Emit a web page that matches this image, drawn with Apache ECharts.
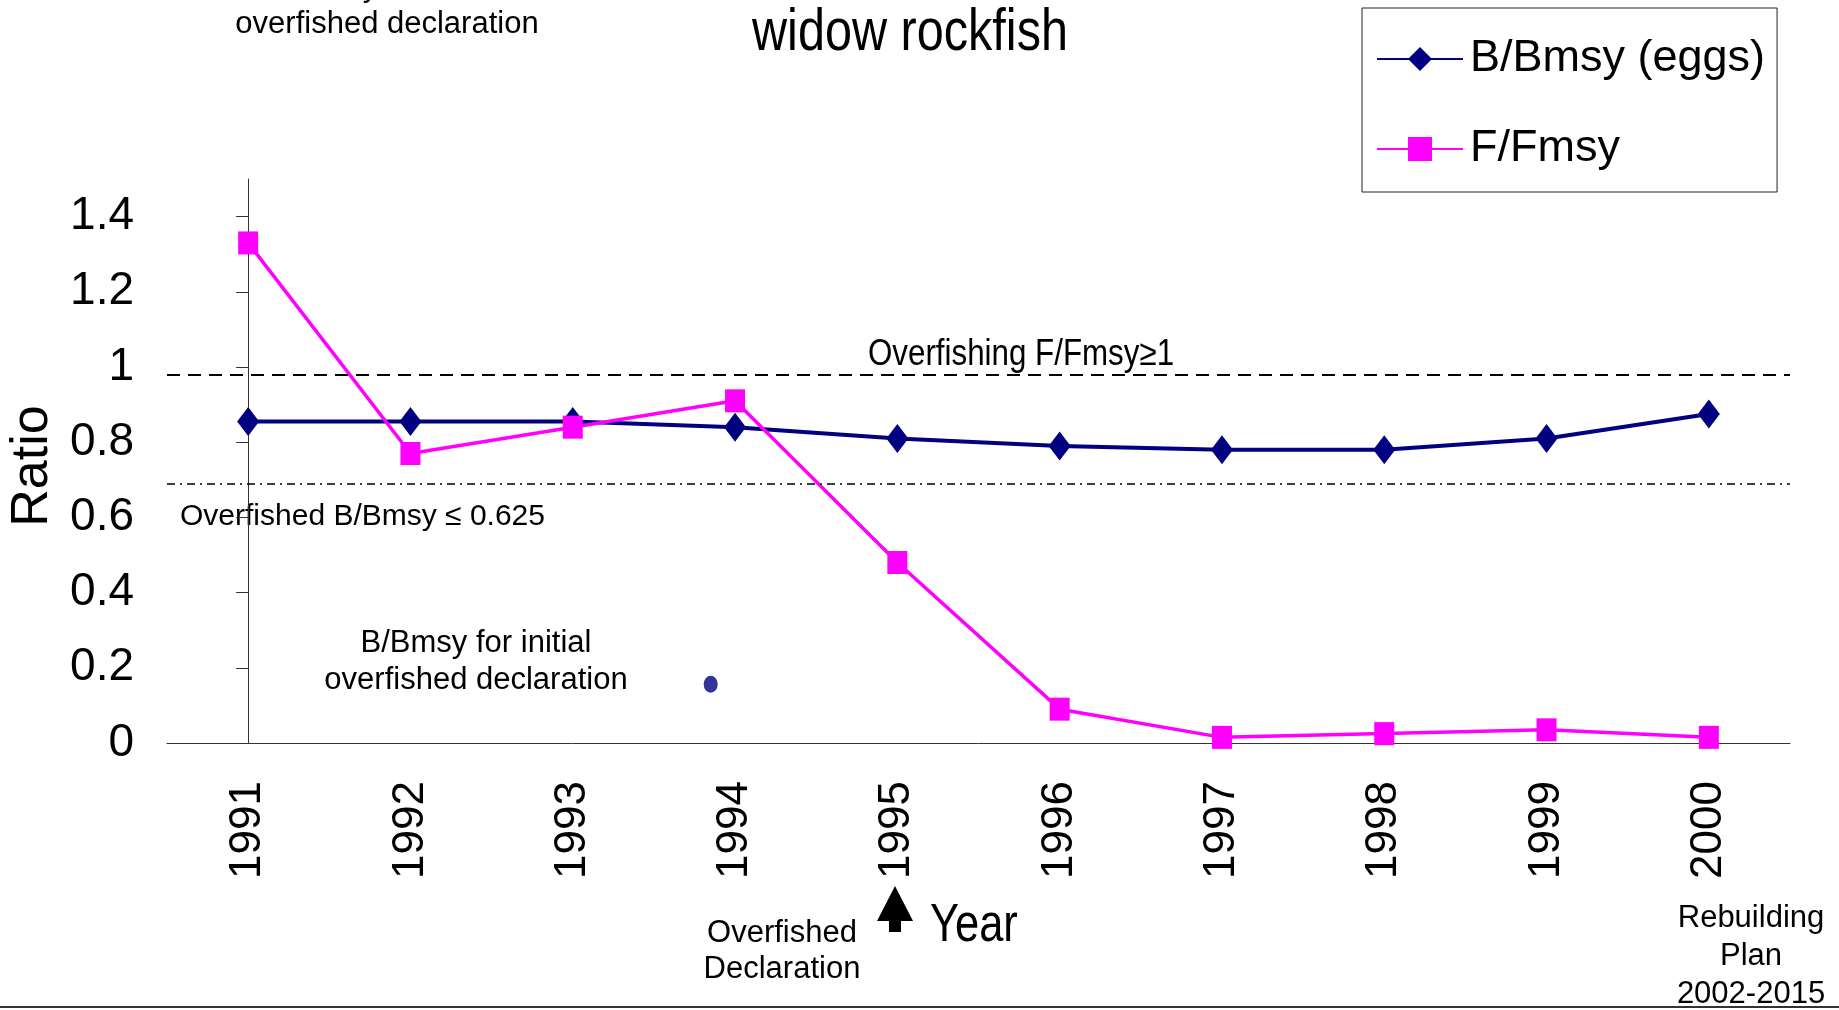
<!DOCTYPE html>
<html>
<head>
<meta charset="utf-8">
<title>widow rockfish</title>
<script src="https://cdn.jsdelivr.net/npm/echarts@6/dist/echarts.min.js"></script>
<style>
html,body{margin:0;padding:0;background:#fff;}
#main{width:1839px;height:1010px;}
</style>
</head>
<body>
<div id="main"></div>
<script>
var years = ['1991', '1992', '1993', '1994', '1995', '1996', '1997', '1998', '1999', '2000'];
var bRatio = [0.855, 0.855, 0.855, 0.84, 0.81, 0.79, 0.78, 0.78, 0.81, 0.875];
var fRatio = [1.33, 0.77, 0.84, 0.91, 0.48, 0.09, 0.015, 0.025, 0.035, 0.015];
var yTicks = [0, 0.2, 0.4, 0.6, 0.8, 1, 1.2, 1.4];
// reference lines as drawn in the picture
var overfishingLevel = 0.98;
var overfishedLevel = 0.685;
// B/Bmsy at the first overfished declaration (x is a fractional year index)
var initialDeclaration = [[2.85, 0.156]];

var REG = "'Liberation Sans', Arial, sans-serif";

window.onload = function () {
    chart();
};

function chart() {
    var myChart = echarts.init(document.getElementById('main'));
    myChart.setOption({
        animation: false,
        backgroundColor: '#fff',
        legend: {
            data: ['B/Bmsy (eggs)', 'F/Fmsy'],
            orient: 'vertical',
            left: 1362,
            top: 8,
            padding: [24, 12, 16, 14],
            itemWidth: 86,
            itemHeight: 30,
            itemGap: 36,
            borderColor: '#222',
            borderWidth: 1,
            textStyle: {fontFamily: REG, fontSize: 45, lineHeight: 54, color: '#000', padding: [0, 0, 0, 2]}
        },
        grid: {left: 167, right: 49, top: 179, bottom: 267},
        xAxis: [{
            type: 'category',
            data: years,
            axisLine: {lineStyle: {color: '#333', width: 1}},
            axisTick: {length: 12, lineStyle: {color: '#333'}},
            axisLabel: {rotate: 90, margin: 38, fontFamily: REG, fontSize: 44, color: '#000'}
        }, {
            type: 'value',
            min: -0.5,
            max: 9.5,
            show: false
        }],
        yAxis: {
            type: 'value',
            min: 0,
            max: 1.5,
            splitLine: {show: false},
            axisLine: {show: true, lineStyle: {color: '#333', width: 1}},
            axisTick: {show: true, length: 12, customValues: yTicks, lineStyle: {color: '#333'}},
            axisLabel: {customValues: yTicks, margin: 33, fontFamily: REG, fontSize: 46, color: '#000'}
        },
        series: [{
            name: 'B/Bmsy (eggs)',
            type: 'line',
            data: bRatio,
            symbol: 'diamond',
            symbolSize: [22, 29],
            color: '#000080',
            lineStyle: {color: '#000080', width: 4},
            itemStyle: {color: '#000080'},
            z: 3
        }, {
            name: 'F/Fmsy',
            type: 'line',
            data: fRatio,
            symbol: 'rect',
            symbolSize: [20, 23],
            color: '#ff00ff',
            lineStyle: {color: '#ff00ff', width: 3.5},
            itemStyle: {color: '#ff00ff'},
            z: 4,
            markLine: {
                silent: true,
                symbol: 'none',
                label: {show: false},
                data: [
                    {yAxis: overfishingLevel, lineStyle: {color: '#000', width: 2, type: [13, 8]}},
                    {yAxis: overfishedLevel, lineStyle: {color: '#000', width: 1.5, type: [8, 5, 2, 5]}}
                ]
            }
        }, {
            name: 'initial declaration',
            type: 'scatter',
            xAxisIndex: 1,
            data: initialDeclaration,
            symbol: 'circle',
            symbolSize: [14, 17],
            itemStyle: {color: '#333399', opacity: 1}
        }],
        graphic: [
            {type: 'text', x: 910, y: 33, scaleX: 0.81, style: {text: 'widow rockfish', font: '60px ' + REG, align: 'center', verticalAlign: 'middle', fill: '#000'}},
            {type: 'text', x: 387, y: 6, style: {text: 'B/Bmsy for initial\noverfished declaration', font: '31px ' + REG, lineHeight: 37, align: 'center', verticalAlign: 'middle', fill: '#000'}},
            {type: 'text', x: 476, y: 662, style: {text: 'B/Bmsy for initial\noverfished declaration', font: '31px ' + REG, lineHeight: 37, align: 'center', verticalAlign: 'middle', fill: '#000'}},
            {type: 'text', x: 180, y: 517, style: {text: 'Overfished B/Bmsy \u2264 0.625', font: '30px ' + REG, align: 'left', verticalAlign: 'middle', fill: '#000'}},
            {type: 'text', x: 1021, y: 355, scaleX: 0.87, style: {text: 'Overfishing F/Fmsy\u22651', font: '36px ' + REG, align: 'center', verticalAlign: 'middle', fill: '#000'}},
            {type: 'text', x: 33, y: 466, rotation: Math.PI / 2, style: {text: 'Ratio', font: '52px ' + REG, align: 'center', verticalAlign: 'middle', fill: '#000'}},
            {type: 'text', x: 782, y: 951, style: {text: 'Overfished\nDeclaration', font: '31px ' + REG, lineHeight: 36, align: 'center', verticalAlign: 'middle', fill: '#000'}},
            {type: 'polygon', shape: {points: [[895, 886], [877, 921], [889, 921], [889, 932], [901, 932], [901, 921], [913, 921]]}, style: {fill: '#000'}},
            {type: 'text', x: 930, y: 926, scaleX: 0.82, style: {text: 'Year', font: '53px ' + REG, align: 'left', verticalAlign: 'middle', fill: '#000'}},
            {type: 'text', x: 1751, y: 956, style: {text: 'Rebuilding\nPlan\n2002-2015', font: '31px ' + REG, lineHeight: 38, align: 'center', verticalAlign: 'middle', fill: '#000'}},
            {type: 'line', shape: {x1: 0, y1: 1007, x2: 1839, y2: 1007}, style: {stroke: '#333', lineWidth: 2}}
        ]
    });
}
</script>
</body>
</html>
